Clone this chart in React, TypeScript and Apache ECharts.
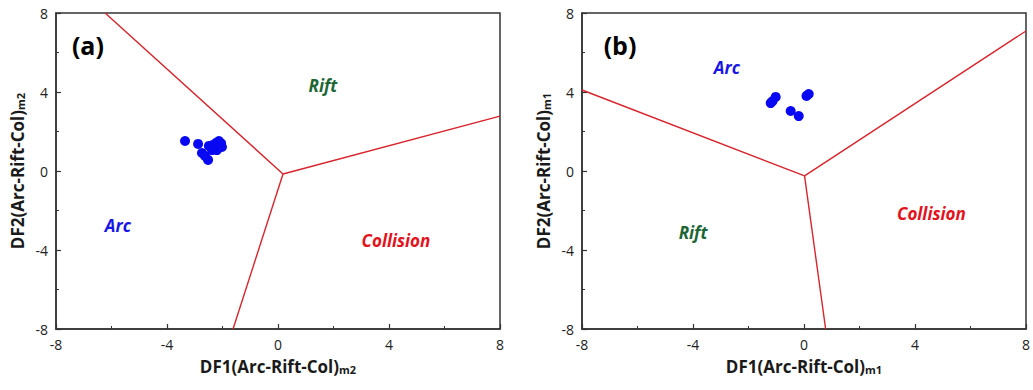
import React, { useEffect, useRef } from "react";
import * as echarts from "echarts";

// Panel (a): DF1/DF2 m2
const pointsA: number[][] = [
  [-3.35, 1.52], [-2.88, 1.37], [-2.74, 0.91], [-2.52, 0.56], [-2.63, 0.76],
  [-2.34, 1.32], [-2.13, 1.52], [-2.02, 1.22], [-2.2, 1.06], [-2.38, 1.06],
  [-2.49, 1.27], [-2.23, 1.42], [-2.05, 1.4],
];
const boundA1: number[][] = [[-6.23, 8], [0.18, -0.15]];
const boundA2: number[][] = [[0.18, -0.15], [8, 2.78]];
const boundA3: number[][] = [[0.18, -0.15], [-1.62, -8]];

// Panel (b): DF1/DF2 m1
const pointsB: number[][] = [
  [-1.2, 3.44], [-1.13, 3.54], [-1.02, 3.75], [-0.48, 3.04], [-0.19, 2.78],
  [0.09, 3.8], [0.17, 3.9],
];
const boundB1: number[][] = [[-8, 4.1], [0.02, -0.25]];
const boundB2: number[][] = [[0.02, -0.25], [8, 7.09]];
const boundB3: number[][] = [[0.02, -0.25], [0.78, -8]];

// Field labels [x, y, text, kind]
const labelsA: [number, number, string, string][] = [
  [-6.85, 6.38, "(a)", "panel"],
  [1.62, 4.35, "Rift", "rift"],
  [-5.77, -2.78, "Arc", "arc"],
  [4.25, -3.54, "Collision", "col"],
];
const labelsB: [number, number, string, string][] = [
  [-6.63, 6.38, "(b)", "panel"],
  [-2.78, 5.22, "Arc", "arc"],
  [-4.0, -3.09, "Rift", "rift"],
  [4.59, -2.13, "Collision", "col"],
];

const xNames = ["DF1(Arc-Rift-Col)", "DF1(Arc-Rift-Col)"];
const yNames = ["DF2(Arc-Rift-Col)", "DF2(Arc-Rift-Col)"];
const subs = ["m2", "m1"];

const FONT = "'Open Sans', sans-serif";
const RED = "#d8242c";
const colors: Record<string, string> = {
  panel: "#000000",
  rift: "#1b6634",
  arc: "#1616e6",
  col: "#e3121c",
};

function App() {
  const ref = useRef<HTMLDivElement>(null);
  useEffect(() => {
    const chart = echarts.init(ref.current!, undefined, { renderer: "svg" });
    const grids = [
      { left: 56, top: 13, width: 444, height: 316 },
      { left: 582, top: 13, width: 445, height: 316 },
    ];
    const rich = {
      a: { fontFamily: FONT, fontWeight: "bold", fontSize: 17, color: "#1a1a1a" },
      s: { fontFamily: FONT, fontWeight: "bold", fontSize: 11, color: "#1a1a1a", padding: [7, 0, 0, 0] },
    };
    const axisCommon = {
      type: "value",
      min: -8,
      max: 8,
      interval: 4,
      axisLine: { show: true, onZero: false, lineStyle: { color: "#333", width: 1.5 } },
      axisTick: { show: true, inside: true, length: 5, lineStyle: { color: "#333", width: 1.2 } },
      minorTick: { show: true, splitNumber: 2, length: 3, lineStyle: { color: "#333", width: 1 } },
      splitLine: { show: false },
      axisLabel: { fontFamily: FONT, fontSize: 14, color: "#222", margin: 8 },
      nameLocation: "middle",
      nameTextStyle: { rich },
    };
    const xAxis = [0, 1].map((i) => ({
      ...axisCommon,
      gridIndex: i,
      name: `{a|${xNames[i]}}{s|${subs[i]}}`,
      nameGap: 28,
    }));
    const yAxis = [0, 1].map((i) => ({
      ...axisCommon,
      gridIndex: i,
      name: `{a|${yNames[i]}}{s|${subs[i]}}`,
      nameGap: 30,
      nameRotate: 90,
    }));
    const lineSeries = (data: number[][], i: number) => ({
      type: "line",
      xAxisIndex: i,
      yAxisIndex: i,
      data,
      symbol: "none",
      lineStyle: { color: RED, width: 1.4 },
      silent: true,
    });
    const labelSeries = (labels: [number, number, string, string][], i: number) => ({
      type: "scatter",
      xAxisIndex: i,
      yAxisIndex: i,
      symbolSize: 0,
      silent: true,
      itemStyle: { opacity: 1 },
      data: labels.map((l) => ({
        value: [l[0], l[1]],
        label: {
          show: true,
          position: "inside",
          formatter: l[2],
          fontFamily: FONT,
          fontWeight: "bold",
          fontStyle: l[3] === "panel" ? "normal" : "italic",
          fontSize: l[3] === "panel" ? 25 : 17,
          color: colors[l[3]],
        },
      })),
    });
    const pointSeries = (data: number[][], i: number) => ({
      type: "scatter",
      xAxisIndex: i,
      yAxisIndex: i,
      data,
      symbolSize: 10,
      itemStyle: { color: "#0808f2", opacity: 1 },
    });
    chart.setOption({
      animation: false,
      backgroundColor: "#ffffff",
      grid: grids.map((g) => ({ ...g, show: true, borderColor: "#333", borderWidth: 1.5, backgroundColor: "transparent" })),
      xAxis,
      yAxis,
      series: [
        lineSeries(boundA1, 0),
        lineSeries(boundA2, 0),
        lineSeries(boundA3, 0),
        lineSeries(boundB1, 1),
        lineSeries(boundB2, 1),
        lineSeries(boundB3, 1),
        pointSeries(pointsA, 0),
        pointSeries(pointsB, 1),
        labelSeries(labelsA, 0),
        labelSeries(labelsB, 1),
      ],
    });
    return () => chart.dispose();
  }, []);
  return (
    <div
      ref={ref}
      style={{ position: "fixed", left: 0, top: 0, width: 1033, height: 390, background: "#fff" }}
    />
  );
}

export default App;
